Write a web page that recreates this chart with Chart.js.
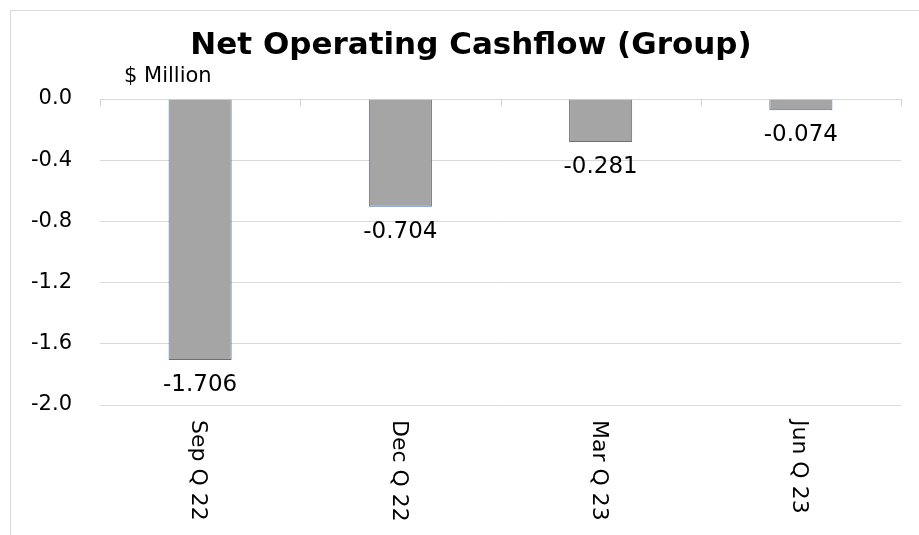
<!DOCTYPE html>
<html lang="en">
<head>
    <meta charset="UTF-8">
    <title>Net Operating Cashflow (Group)</title>
    <style>
        html, body {
            margin: 0;
            padding: 0;
            overflow: hidden;
            background: #fff;
        }

        #frame {
            position: absolute;
            left: 10px;
            top: 10px;
            width: 1000px;
            height: 1000px;
            border-left: 1px solid #d9d9d9;
            border-top: 1px solid #d9d9d9;
        }

        #wrap {
            position: absolute;
            left: 0;
            top: 0;
            width: 919px;
            height: 535px;
        }
    </style>
    <script src="https://cdn.jsdelivr.net/npm/chart.js"></script>
</head>
<body>
    <div id="frame"></div>
    <div id="wrap"><canvas id="cashChart"></canvas></div>

    <script>
        const quarters = ['Sep Q 22', 'Dec Q 22', 'Mar Q 23', 'Jun Q 23'];
        const cashflow = [-1.706, -0.704, -0.281, -0.074];
        const yTicks = [0.0, -0.4, -0.8, -1.2, -1.6, -2.0];

        const FONT = '"DejaVu Sans", sans-serif';

        // labels, title and the little category ticks on the zero line
        const extras = {
            id: 'extras',
            afterDatasetsDraw(chart) {
                const ctx = chart.ctx;
                const x = chart.scales.x;
                const y = chart.scales.y;
                const meta = chart.getDatasetMeta(0);
                const zeroY = y.getPixelForValue(0);

                ctx.save();

                // category boundary ticks
                ctx.strokeStyle = '#d0d0d0';
                ctx.lineWidth = 1;
                const step = (x.right - x.left) / quarters.length;
                for (let i = 0; i <= quarters.length; i++) {
                    const px = Math.round(x.left + i * step) + 0.5;
                    ctx.beginPath();
                    ctx.moveTo(px, zeroY);
                    ctx.lineTo(px, zeroY + 7);
                    ctx.stroke();
                }

                // title
                ctx.fillStyle = '#000';
                ctx.font = 'bold 31px ' + FONT;
                ctx.textAlign = 'center';
                ctx.textBaseline = 'middle';
                ctx.fillText('Net Operating Cashflow (Group)', 471, 46);

                // units
                ctx.font = '21px ' + FONT;
                ctx.textAlign = 'left';
                ctx.fillText('$ Million', 124, 77);

                // value labels under each bar
                ctx.font = '23px ' + FONT;
                ctx.textAlign = 'center';
                meta.data.forEach((bar, i) => {
                    ctx.fillText(cashflow[i].toFixed(3), bar.x, bar.y + 25);
                });

                // category labels, rotated clockwise
                ctx.font = '22px ' + FONT;
                ctx.textAlign = 'left';
                meta.data.forEach((bar, i) => {
                    ctx.save();
                    ctx.translate(bar.x - 2, y.bottom + 15);
                    ctx.rotate(Math.PI / 2);
                    ctx.fillText(quarters[i], 0, 0);
                    ctx.restore();
                });

                ctx.restore();
            }
        };

        function createCashChart() {
            const ctx = document.getElementById('cashChart').getContext('2d');
            new Chart(ctx, {
                type: 'bar',
                data: {
                    labels: quarters,
                    datasets: [{
                        label: 'Net Operating Cashflow',
                        data: cashflow,
                        backgroundColor: '#A5A5A5',
                        borderColor: '#4472C4',
                        borderWidth: 1,
                        categoryPercentage: 1.0,
                        barPercentage: 0.315
                    }]
                },
                options: {
                    responsive: true,
                    maintainAspectRatio: false,
                    animation: false,
                    layout: {
                        padding: { left: 10, top: 99, right: 18, bottom: 0 }
                    },
                    plugins: {
                        legend: { display: false },
                        title: { display: false },
                        tooltip: { enabled: false }
                    },
                    scales: {
                        x: {
                            ticks: { display: false },
                            grid: { display: false },
                            border: { display: false },
                            afterFit(scale) { scale.height = 130; }
                        },
                        y: {
                            min: -2.0,
                            max: 0.0,
                            afterBuildTicks(scale) {
                                scale.ticks = yTicks.map(v => ({ value: v }));
                            },
                            afterFit(scale) { scale.width = 90; },
                            ticks: {
                                padding: 28,
                                color: '#000',
                                font: { family: FONT, size: 21 },
                                callback: (v) => Number(v).toFixed(1)
                            },
                            grid: {
                                color: '#d9d9d9',
                                drawTicks: false
                            },
                            border: { display: false }
                        }
                    }
                },
                plugins: [extras]
            });
        }

        window.onload = function () {
            createCashChart();
        };
    </script>
</body>
</html>
